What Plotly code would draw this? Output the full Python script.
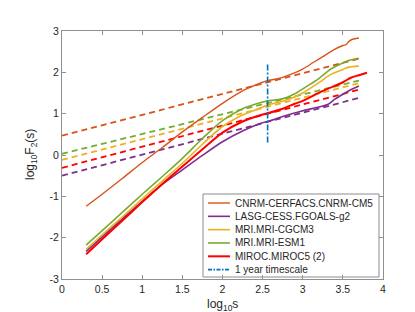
import plotly.graph_objects as go

# ---------------- data ----------------
model_names = ["CNRM-CERFACS.CNRM-CM5", "LASG-CESS.FGOALS-g2", "MRI.MRI-CGCM3",
               "MRI.MRI-ESM1", "MIROC.MIROC5 (2)"]
model_colors = ["#D95319", "#7E2F8E", "#EDB120", "#77AC30", "#FF0000"]
model_widths = [1.4, 1.6, 1.6, 1.6, 2.0]

cnrm_x = [0.301, 0.5, 0.75, 1.0, 1.25, 1.5, 1.75, 2.0, 2.25, 2.35, 2.5, 2.56, 2.7, 2.85,
          3.0, 3.14, 3.25, 3.39, 3.5, 3.54, 3.57, 3.62, 3.7]
cnrm_y = [-1.24, -0.95, -0.57, -0.18, 0.18, 0.56, 0.91, 1.25, 1.55, 1.64, 1.76, 1.80, 1.85,
          1.95, 2.08, 2.25, 2.38, 2.55, 2.65, 2.67, 2.74, 2.80, 2.83]

fgoals_x = [0.301, 0.5, 0.75, 1.0, 1.25, 1.5, 1.75, 2.0, 2.25, 2.5, 2.56, 2.75, 3.0, 3.2,
            3.31, 3.4, 3.5, 3.6, 3.7]
fgoals_y = [-2.33, -1.98, -1.55, -1.12, -0.71, -0.36, -0.01, 0.32, 0.58, 0.78, 0.81, 0.93,
            1.07, 1.16, 1.22, 1.35, 1.47, 1.58, 1.67]

cgcm3_x = [0.301, 0.5, 0.75, 1.0, 1.25, 1.5, 1.75, 2.0, 2.25, 2.5, 2.56, 2.8, 3.0, 3.2,
           3.35, 3.5, 3.56, 3.7]
cgcm3_y = [-2.28, -1.93, -1.50, -1.06, -0.63, -0.20, 0.26, 0.69, 0.97, 1.16, 1.21, 1.33,
           1.50, 1.75, 1.95, 2.07, 2.12, 2.15]

esm1_x = [0.301, 0.5, 0.75, 1.0, 1.25, 1.5, 1.75, 2.0, 2.25, 2.35, 2.5, 2.56, 2.7, 2.8,
          2.9, 3.0, 3.2, 3.35, 3.5, 3.56, 3.7]
esm1_y = [-2.18, -1.83, -1.39, -0.95, -0.52, -0.08, 0.40, 0.83, 1.12, 1.19, 1.28, 1.31, 1.34,
          1.39, 1.48, 1.60, 1.85, 2.08, 2.23, 2.28, 2.34]

miroc_x = [0.301, 0.5, 0.75, 1.0, 1.25, 1.5, 1.75, 2.0, 2.25, 2.5, 2.56, 2.75, 2.9, 3.0,
           3.25, 3.5, 3.6, 3.7, 3.8]
miroc_y = [-2.40, -2.04, -1.59, -1.14, -0.70, -0.28, 0.14, 0.54, 0.81, 0.98, 1.01, 1.12,
           1.24, 1.31, 1.55, 1.76, 1.87, 1.93, 1.99]

# linear fits (dashed), evaluated at the two ends
fit_x = [0.0, 3.7]
cnrm_fit = [0.47, 2.33]
fgoals_fit = [-0.50, 1.38]
cgcm3_fit = [-0.12, 1.74]
esm1_fit = [0.03, 1.80]
miroc_fit = [-0.31, 1.58]

year_label = "1 year timescale"
year_x = [2.562, 2.562]
year_y = [0.30, 2.19]

x_title = "log<sub>10</sub>s"
y_title = "log<sub>10</sub>F<sub>2</sub>(s)"
x_ticks = [0, 0.5, 1, 1.5, 2, 2.5, 3, 3.5, 4]
x_ticklabels = ["0", "0.5", "1", "1.5", "2", "2.5", "3", "3.5", "4"]
y_ticks = [-3, -2, -1, 0, 1, 2, 3]
y_ticklabels = ["-3", "-2", "-1", "0", "1", "2", "3"]

solid_x = [cnrm_x, fgoals_x, cgcm3_x, esm1_x, miroc_x]
solid_y = [cnrm_y, fgoals_y, cgcm3_y, esm1_y, miroc_y]
fits = [cnrm_fit, fgoals_fit, cgcm3_fit, esm1_fit, miroc_fit]

# ---------------- figure ----------------
FONT = "Liberation Sans, Arial, Helvetica, sans-serif"
fig = go.Figure()

for name, col, f in zip(model_names, model_colors, fits):
    fig.add_trace(go.Scatter(x=fit_x, y=f, mode="lines", name=name + " fit",
                             line=dict(color=col, width=1.8, dash="6px,4px"),
                             showlegend=False))

for name, col, w, xs, ys in zip(model_names, model_colors, model_widths, solid_x, solid_y):
    fig.add_trace(go.Scatter(x=xs, y=ys, mode="lines", name=name,
                             line=dict(color=col, width=w, shape="spline", smoothing=0.8),
                             showlegend=False))

fig.add_trace(go.Scatter(x=year_x, y=year_y, mode="lines", name=year_label,
                         line=dict(color="#0072BD", width=1.6, dash="6px,2px,2px,2px"),
                         showlegend=False))

# ---------------- manual legend & titles ----------------
L, T = 54, 23
PW, PH = 321, 248


def px(xp):
    return (xp - L) / PW


def py(yp):
    return (T + PH - yp) / PH


shapes = [dict(type="rect", xref="paper", yref="paper",
               x0=px(195), x1=px(371), y0=py(269), y1=py(186),
               line=dict(color="#8c8c8c", width=1), fillcolor="white", layer="below")]
annotations = []
leg_names = model_names + [year_label]
leg_colors = model_colors + ["#0072BD"]
leg_widths = model_widths + [1.6]
for i, (n, c, w) in enumerate(zip(leg_names, leg_colors, leg_widths)):
    yy = 195 + 13.33 * i
    dash = "solid" if i < 5 else "4px,1.5px,1.5px,1.5px"
    shapes.append(dict(type="line", xref="paper", yref="paper",
                       x0=px(200), x1=px(222), y0=py(yy), y1=py(yy),
                       line=dict(color=c, width=w, dash=dash), layer="below"))
    annotations.append(dict(text=n, xref="paper", yref="paper", x=px(224.5), y=py(yy),
                            xanchor="left", yanchor="middle", showarrow=False,
                            font=dict(family=FONT, size=10, color="#262626")))

annotations.append(dict(text=x_title, xref="paper", yref="paper", x=px(215), y=py(297),
                        xanchor="center", yanchor="middle", showarrow=False,
                        font=dict(family=FONT, size=12, color="#262626")))
annotations.append(dict(text=y_title, xref="paper", yref="paper", x=px(23), y=py(147),
                        xanchor="center", yanchor="middle", showarrow=False, textangle=-90,
                        font=dict(family=FONT, size=12, color="#262626")))

axis_common = dict(showline=True, linecolor="#909090", linewidth=1, mirror="ticks",
                   ticks="inside", ticklen=4, tickcolor="#909090", showgrid=False,
                   zeroline=False, tickfont=dict(family=FONT, size=10.5, color="#262626"))

fig.update_layout(
    width=415, height=312,
    margin=dict(l=L, r=415 - L - PW, t=T, b=312 - T - PH),
    paper_bgcolor="white", plot_bgcolor="white",
    showlegend=False,
    shapes=shapes, annotations=annotations,
    xaxis=dict(range=[0, 4], tickvals=x_ticks, ticktext=x_ticklabels, **axis_common),
    yaxis=dict(range=[-3, 3], tickvals=y_ticks, ticktext=y_ticklabels, **axis_common),
)

fig.write_html("out.html")
